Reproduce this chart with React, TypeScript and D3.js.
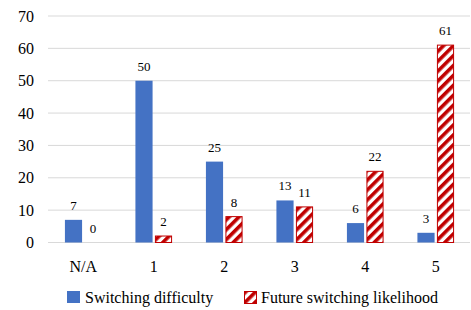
import React from 'react';
import * as d3 from 'd3';

const categories = ['N/A', '1', '2', '3', '4', '5'];
const series = ['Switching difficulty', 'Future switching likelihood'];
const difficulty = [7, 50, 25, 13, 6, 3];
const likelihood = [0, 2, 8, 11, 22, 61];
const yTicks = [0, 10, 20, 30, 40, 50, 60, 70];

const W = 471;
const H = 310;
const margin = { top: 16, right: 0, bottom: 68, left: 48 };
const BLUE = '#4472C4';
const RED = '#C00000';
const FONT = "'Liberation Serif', 'Times New Roman', Times, serif";

const App: React.FC = () => {
  const x0 = d3.scaleBand<string>()
    .domain(categories)
    .range([margin.left, W - margin.right])
    .paddingInner(0.48)
    .paddingOuter(0.24);
  const x1 = d3.scaleBand<string>()
    .domain(series)
    .range([0, x0.bandwidth()])
    .paddingInner(0.12);
  const y = d3.scaleLinear().domain([0, 70]).range([H - margin.bottom + 0.5, margin.top]);

  const rows = categories.map((c, i) => ({ c, vals: [difficulty[i], likelihood[i]] }));

  return (
    <svg width={W} height={H} style={{ position: 'absolute', left: 0, top: 0, background: '#fff', fontFamily: FONT }}>
      <defs>
        <pattern id="stripes" patternUnits="userSpaceOnUse" width="7" height="7" patternTransform="rotate(45)">
          <rect width="7" height="7" fill="#fff" />
          <rect width="3.6" height="7" fill={RED} />
        </pattern>
      </defs>
      {yTicks.map(t => (
        <g key={t}>
          <line x1={margin.left} x2={W - 1} y1={y(t)} y2={y(t)} stroke="#d9d9d9" strokeWidth={1} />
          <text x={34} y={y(t)} dy="0.35em" textAnchor="end" style={{ fontFamily: FONT }} fontSize={16} fill="#000">{t}</text>
        </g>
      ))}
      {rows.map(r => (
        <g key={r.c} transform={`translate(${x0(r.c)},0)`}>
          {r.vals.map((v, j) => {
            const bx = x1(series[j])!;
            const bw = x1.bandwidth();
            return (
              <g key={j}>
                {v > 0 && (
                  <rect
                    x={bx + (j === 1 ? 0.5 : 0)}
                    y={y(v)}
                    width={bw - (j === 1 ? 1 : 0)}
                    height={y(0) - y(v)}
                    fill={j === 0 ? BLUE : 'url(#stripes)'}
                    stroke={j === 1 ? RED : 'none'}
                    strokeWidth={1}
                  />
                )}
                <text x={bx + bw / 2} y={y(v) - 10} textAnchor="middle" style={{ fontFamily: FONT }} fontSize={13} fill="#000">{v}</text>
              </g>
            );
          })}
          <text x={x0.bandwidth() / 2} y={272} textAnchor="middle" style={{ fontFamily: FONT }} fontSize={16} fill="#000">{r.c}</text>
        </g>
      ))}
      <g transform="translate(67,291)">
        <rect width={13} height={12} fill={BLUE} />
        <text x={18} y={12} style={{ fontFamily: FONT }} fontSize={16} fill="#000">{series[0]}</text>
      </g>
      <g transform="translate(244,291)">
        <rect x={0.5} y={0.5} width={12} height={12} fill="url(#stripes)" stroke={RED} />
        <text x={17} y={12} style={{ fontFamily: FONT }} fontSize={16} fill="#000">{series[1]}</text>
      </g>
    </svg>
  );
};

export default App;
